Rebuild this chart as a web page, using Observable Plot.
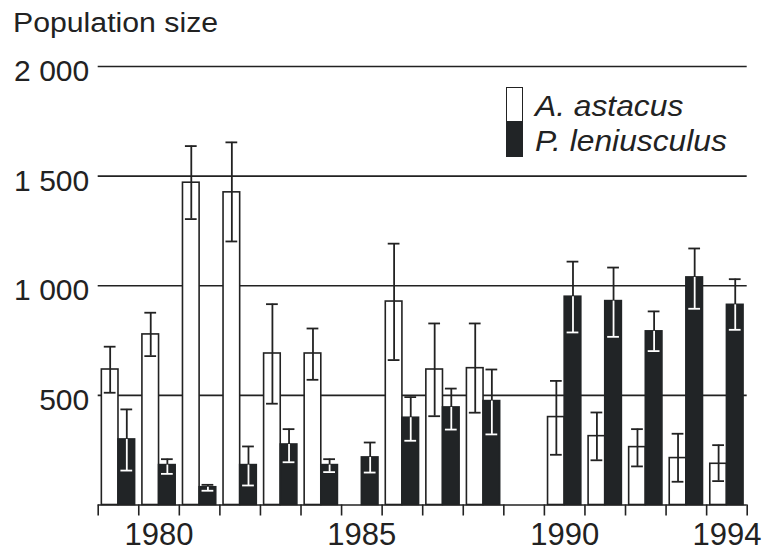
<!DOCTYPE html>
<html><head><meta charset="utf-8">
<script src="https://cdn.jsdelivr.net/npm/d3@7"></script>
<script src="https://cdn.jsdelivr.net/npm/@observablehq/plot@0.6"></script>
<style>
body{margin:0;background:#fff;}
#wrap{position:relative;width:763px;height:551px;font-family:"Liberation Sans",Arial,sans-serif;color:#222;}
#title{position:absolute;left:13px;top:10px;font-size:27px;line-height:27px;white-space:nowrap;transform:scaleX(1.12);transform-origin:0 50%;}
#chart{position:absolute;left:0;top:40px;}
.leg{position:absolute;font-style:italic;font-size:29px;line-height:29px;white-space:nowrap;left:535px;transform:scaleX(1.095);transform-origin:0 50%;}
.sw{position:absolute;left:506px;width:17px;box-sizing:border-box;}
</style></head><body>
<div id="wrap">
<div id="chart"></div>
<div id="title">Population size</div>
<div class="sw" style="top:87px;height:35px;border:1.5px solid #222;background:#fff"></div>
<div class="sw" style="top:121px;height:36px;background:#212426"></div>
<div class="leg" id="leg0" style="top:91.5px"></div>
<div class="leg" id="leg1" style="top:126.5px"></div>
</div>
<script>
const years = [1979,1980,1981,1982,1983,1984,1985,1986,1987,1988,1989,1990,1991,1992,1993,1994];
const seriesNames = ["A. astacus", "P. leniusculus"];
// A. astacus (white bars): mean and error-bar ends
const astacusMean = [618, 778, 1470, 1426, 691, 691, null, 928, 618, 624, null, 401, 314, 264, 214, 188];
const astacusLow  = [512, 679, 1304, 1202, 462, 571, null, 661, 405, 421, null, 229, 204, 176, 106, 109];
const astacusHigh = [722, 877, 1637, 1654, 916, 805, null, 1192, 828, 828, null, 566, 422, 346, 325, 273];
// P. leniusculus (black bars): mean and error-bar ends
const leniusculusMean = [299, 182, 81, 182, 276, 182, 217, 398, 445, 474, null, 950, 930, 792, 1038, 913];
const leniusculusLow  = [157, 142, 65, 89, 195, 150, 148, 293, 344, 322, null, 787, 767, 702, 895, 799];
const leniusculusHigh = [436, 209, 92, 267, 346, 209, 285, 492, 531, 618, null, 1110, 1083, 883, 1170, 1030];
const yTicks = [500, 1000, 1500, 2000];
const xTickLabels = [1980, 1985, 1990, 1994];

document.getElementById("leg0").textContent = seriesNames[0];
document.getElementById("leg1").textContent = seriesNames[1];

const rows = [];
years.forEach((yr, i) => {
  if (astacusMean[i] != null) rows.push({year: yr, s: 0, mean: astacusMean[i], lo: astacusLow[i], hi: astacusHigh[i]});
  if (leniusculusMean[i] != null) rows.push({year: yr, s: 1, mean: leniusculusMean[i], lo: leniusculusLow[i], hi: leniusculusHigh[i]});
});
const A = rows.filter(d => d.s === 0);
const P = rows.filter(d => d.s === 1);
const W = 0.41, CAP = 0.145;
const ink = "#222", barInk = "#212426";
const bx1 = d => d.s === 0 ? d.year - W : d.year;
const bx2 = d => d.s === 0 ? d.year : d.year + W;
const xc = d => (bx1(d) + bx2(d)) / 2;
const fmt = d => d3.format(",")(d).replace(/,/g, " ");

const chart = Plot.plot({
  width: 763, height: 511,
  marginLeft: 97.7, marginRight: 16.3, marginTop: 26, marginBottom: 46.5,
  style: {background: "transparent", fontFamily: "'Liberation Sans', Arial, sans-serif", color: ink, overflow: "visible"},
  x: {domain: [1978.5, 1994.5]},
  y: {domain: [0, 2000]},
  marks: [
    Plot.ruleY(yTicks, {stroke: ink, strokeWidth: 1.6}),
    Plot.rectY(rows, {x1: bx1, x2: bx2, y1: 0, y2: "mean", fill: d => d.s ? barInk : "#fff", stroke: d => d.s ? barInk : ink, strokeWidth: 1.6}),
    Plot.ruleX(rows, {x: xc, y1: "lo", y2: "hi", stroke: ink, strokeWidth: 1.8}),
    Plot.ruleY(rows, {y: "hi", x1: d => xc(d) - CAP, x2: d => xc(d) + CAP, stroke: ink, strokeWidth: 1.8}),
    Plot.ruleY(A, {y: "lo", x1: d => xc(d) - CAP, x2: d => xc(d) + CAP, stroke: ink, strokeWidth: 1.8}),
    Plot.ruleX(P, {x: xc, y1: "lo", y2: "mean", stroke: "#fff", strokeWidth: 1.8}),
    Plot.ruleY(P, {y: "lo", x1: d => xc(d) - CAP, x2: d => xc(d) + CAP, stroke: "#fff", strokeWidth: 1.8}),
    Plot.ruleY([0], {stroke: ink, strokeWidth: 1.6}),
    Plot.axisX({ticks: d3.range(1978.5, 1995, 1), tickSize: 11, tickFormat: () => "", strokeWidth: 1.6}),
    Plot.axisX({ticks: xTickLabels, tickSize: 0, tickPadding: 18, fontSize: 31, tickFormat: d => String(d)}),
    Plot.axisY({ticks: yTicks, tickSize: 0, tickPadding: 9, fontSize: 30, dy: 5, tickFormat: fmt})
  ]
});
document.getElementById("chart").appendChild(chart);
</script>
</body></html>
